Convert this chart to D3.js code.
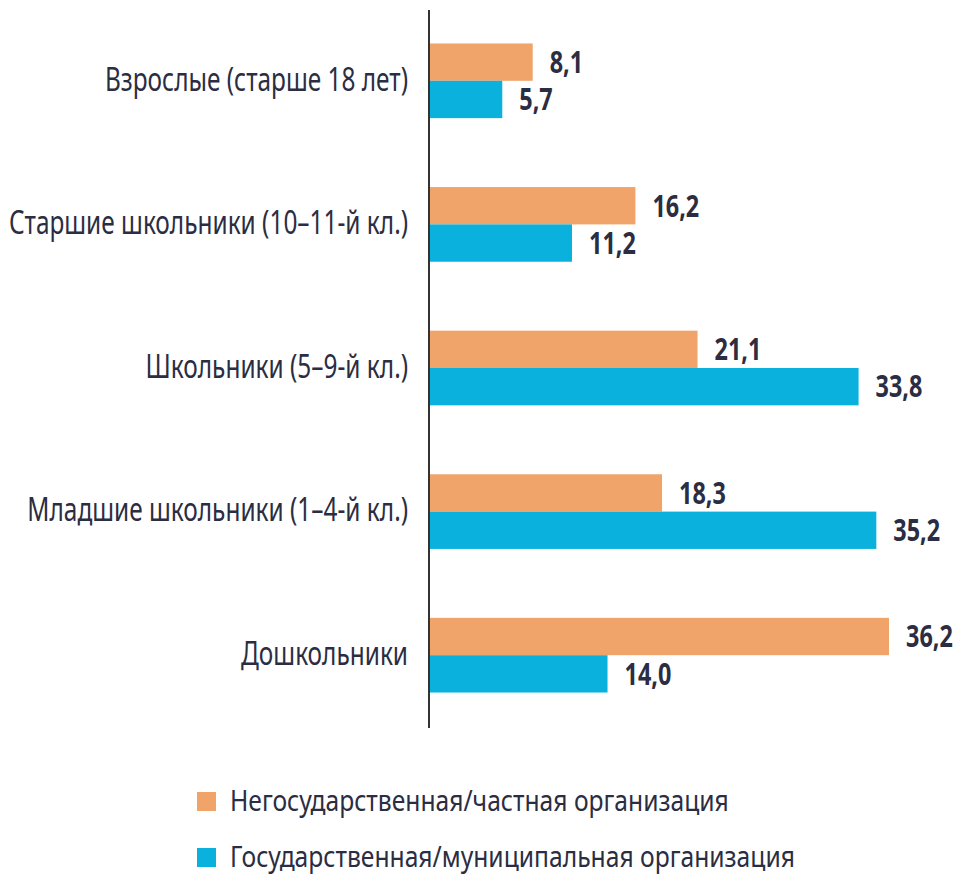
<!DOCTYPE html>
<html>
<head>
<meta charset="utf-8">
<script src="https://cdn.jsdelivr.net/npm/d3@7"></script>
<style>
  body { margin: 0; background: #fff; }
  svg text { font-family: "Noto Sans", "Open Sans", sans-serif; fill: #2b2d42; }
</style>
</head>
<body>
<div id="chart"></div>
<script>
const categories = ["Взрослые (старше 18 лет)", "Старшие школьники (10–11-й кл.)", "Школьники (5–9-й кл.)", "Младшие школьники (1–4-й кл.)", "Дошкольники"]
const privateValues = [8.1, 16.2, 21.1, 18.3, 36.2]
const publicValues = [5.7, 11.2, 33.8, 35.2, 14.0]
const seriesNames = ["Негосударственная/частная организация", "Государственная/муниципальная организация"]
const colors = ["#f0a46a", "#0ab1dc"]

const width = 959, height = 875

let svg = d3.select("#chart").append("svg")
  .attr("width", width)
  .attr("height", height)

// no condensed font installed: squeeze text horizontally instead
function place(sel, fx, fy, k) {
  sel.attr("x", 0).attr("y", 0)
    .attr("transform", (d, i) => "translate(" + fx(d, i) + "," + fy(d, i) + ") scale(" + k + ",1)")
}

let x = d3.scaleLinear().domain([0, 36.2]).range([430, 889])
let y = d3.scaleBand().domain(categories).range([9, 727]).paddingInner(0.48).paddingOuter(0.24)
let sub = d3.scaleBand().domain([0, 1]).range([0, y.bandwidth()])

let format = d3.format(".1f")
let series = [privateValues, publicValues]

series.forEach((vals, s) => {
  let g = svg.append("g")
  g.selectAll("rect")
    .data(categories)
    .join("rect")
    .attr("x", x(0))
    .attr("y", (d) => y(d) + sub(s))
    .attr("width", (d, i) => x(vals[i]) - x(0))
    .attr("height", sub.bandwidth())
    .attr("fill", colors[s])

  g.selectAll("text")
    .data(categories)
    .join("text")
    .attr("dy", "0.36em")
    .style("font-size", "30px")
    .style("font-weight", "bold")
    .text((d, i) => format(vals[i]).replace(".", ","))
    .call(place, (d, i) => x(vals[i]) + 17, (d) => y(d) + sub(s) + sub.bandwidth() / 2, 0.78)
})

// category labels
svg.append("g").selectAll("text")
  .data(categories)
  .join("text")
  .attr("dy", "0.36em")
  .attr("text-anchor", "end")
  .style("font-size", "33px")
  .text((d) => d)
  .call(place, () => 408, (d) => y(d) + y.bandwidth() / 2 - 2, 0.74)

// axis line
svg.append("line")
  .attr("x1", x(0) - 1).attr("x2", x(0) - 1)
  .attr("y1", 10).attr("y2", 728)
  .attr("stroke", "#333")
  .attr("stroke-width", 2)

// legend
let legend = svg.append("g").attr("transform", "translate(197, 792)")
seriesNames.forEach((name, i) => {
  let row = legend.append("g").attr("transform", "translate(0, " + (i * 56) + ")")
  row.append("rect")
    .attr("width", 19).attr("height", 19)
    .attr("fill", colors[i])
  row.append("text")
    .datum(name)
    .attr("dy", "0.36em")
    .style("font-size", "29px")
    .text(name)
    .call(place, () => 33, () => 9, 0.85)
})
</script>
</body>
</html>
